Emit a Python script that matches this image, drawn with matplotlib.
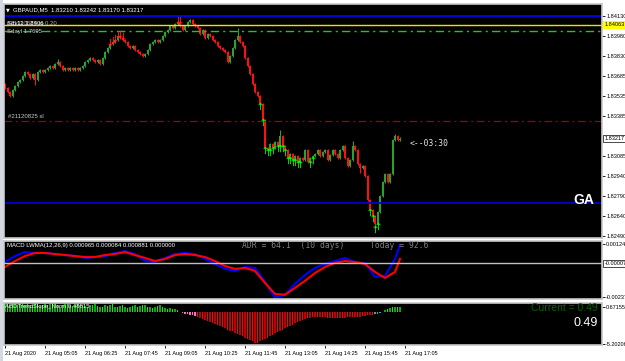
import numpy as np
import matplotlib.pyplot as plt
import matplotlib.transforms as mtransforms

plt.rcParams['font.family'] = ['Liberation Sans', 'DejaVu Sans']

# ---- data (GBPAUD M5, 21 Aug 2020) ----
closes = [1.83594, 1.83565, 1.83535, 1.83579, 1.83609, 1.83639, 1.83654, 1.83684, 1.83713, 1.83698,
          1.83669, 1.83698, 1.83654, 1.83713, 1.83728, 1.83713, 1.83728, 1.83743, 1.83758, 1.83743,
          1.83773, 1.83788, 1.83758, 1.83728, 1.83743, 1.83728, 1.83743, 1.83728, 1.83743, 1.83728,
          1.83743, 1.83758, 1.83788, 1.83803, 1.83818, 1.83803, 1.83788, 1.83803, 1.83773, 1.83818,
          1.83862, 1.83892, 1.83922, 1.83937, 1.83951, 1.83981, 1.83966, 1.83951, 1.83937, 1.83907,
          1.83892, 1.83907, 1.83877, 1.83862, 1.83847, 1.83832, 1.83847, 1.83877, 1.83922, 1.83937,
          1.83951, 1.83937, 1.83951, 1.83981, 1.84011, 1.84026, 1.84056, 1.84041, 1.84070, 1.84085,
          1.84056, 1.84026, 1.84056, 1.84085, 1.84100, 1.84070, 1.84056, 1.84041, 1.83996, 1.84026,
          1.83966, 1.83996, 1.83981, 1.83951, 1.83937, 1.83907, 1.83892, 1.83877, 1.83862, 1.83788,
          1.83832, 1.83892, 1.83951, 1.83981, 1.83937, 1.83907, 1.83818, 1.83758, 1.83698, 1.83624,
          1.83565, 1.83535, 1.83475, 1.83356, 1.83148, 1.83133, 1.83178, 1.83148, 1.83193, 1.83163,
          1.83237, 1.83163, 1.83133, 1.83074, 1.83103, 1.83059, 1.83089, 1.83044, 1.83074, 1.83059,
          1.83133, 1.83044, 1.83074, 1.83089, 1.83103, 1.83133, 1.83089, 1.83118, 1.83133, 1.83059,
          1.83096, 1.83133, 1.83103, 1.83074, 1.83133, 1.83163, 1.83074, 1.83014, 1.83059, 1.83163,
          1.83133, 1.83029, 1.82999, 1.83014, 1.82940, 1.82761, 1.82687, 1.82642, 1.82582, 1.82672,
          1.82791, 1.82895, 1.82954, 1.82895, 1.82954, 1.83208, 1.83237, 1.83208, 1.83217]
first_open = 1.83624
spike_highs = {93: 1.84040, 110: 1.83282, 21: 1.83810, 139: 1.83200, 156: 1.83250}
spike_lows = {148: 1.82550, 12: 1.83620, 142: 1.82960}

up_arrows = [102, 103, 104, 105, 106, 107, 109, 110, 111, 112, 113, 114, 115, 116, 117, 118,
             122, 123, 146, 147, 148, 149]
dn_marks = [42, 43, 44, 45, 46, 47, 69, 70]

price_ticks = [1.84130, 1.83980, 1.83830, 1.83685, 1.83535, 1.83385,
               1.83085, 1.82940, 1.82790, 1.82640, 1.82490]
line_blue_hi = 1.84130
line_yellow = 1.84063
line_green = 1.84020
line_sl = 1.83349
line_blue_lo = 1.82739
last_price = 1.83217

macd_bars = list(range(0, 157, 4)) + [158]
macd_main = [0.00001, 0.00042, 0.00069, 0.00063, 0.00063, 0.00056, 0.00049, 0.00042, 0.00029, 0.00035,
             0.00042, 0.00063, 0.00076, 0.00056, 0.00008, 0.00001, 0.00029, 0.00056, 0.00063, 0.00056,
             0.00022, -0.00012, -0.00046, -0.00060, -0.00033, -0.00039, -0.00135, -0.00244, -0.00223,
             -0.00148, -0.00087, -0.00039, -0.00012, 0.00008, 0.00029, 0.00001, -0.00005, -0.00101,
             -0.00094, 0.00022, 0.00117]
macd_signal = [-0.00033, 0.00008, 0.00042, 0.00063, 0.00063, 0.00056, 0.00049, 0.00042, 0.00035, 0.00035,
               0.00049, 0.00056, 0.00069, 0.00049, 0.00029, 0.00008, 0.00022, 0.00049, 0.00056, 0.00049,
               0.00035, 0.00008, -0.00026, -0.00046, -0.00039, -0.00060, -0.00142, -0.00217, -0.00223,
               -0.00176, -0.00128, -0.00074, -0.00033, -0.00005, 0.00008, 0.00001, -0.00012, -0.00067,
               -0.00108, -0.00067, 0.00022]

hist = [1.2, 1.3, 1.1, 1.3, 1.2, 1.0, 1.2, 1.3, 1.1, 1.2,
        1.0, 1.1, 1.3, 1.2, 0.9, 1.1, 1.2, 1.0, 1.3, 1.1,
        1.2, 1.0, 0.8, 1.1, 1.2, 1.3, 1.0, 0.9, 1.1, 1.2,
        1.0, 1.1, 0.9, 0.8, 1.0, 1.1, 1.2, 0.9, 0.7, 0.8,
        1.0, 0.9, 1.1, 1.2, 0.8, 0.7, 0.9, 1.0, 0.8, 0.6,
        0.7, 0.9, 1.0, 0.8, 0.9, 1.1, 1.0, 0.8, 0.7, 0.6,
        0.8, 0.9, 1.0, 0.7, 0.6, 0.5, 0.6, 0.5, 0.4, 0.3,
        -0.1, -0.2, -0.3, -0.4, -0.5, -0.6, -0.7,
        -0.9, -1.0, -1.2, -1.4, -1.5, -1.7, -1.9, -2.0, -2.2, -2.4, -2.5, -2.7,
        -2.9, -3.1, -3.2, -3.4, -3.6, -3.8, -4.0, -4.2, -4.4, -4.6, -4.8, -5.0,
        -5.0, -4.8, -4.6, -4.4, -4.2, -4.0, -3.7, -3.5, -3.3, -3.1, -2.9, -2.7, -2.5,
        -2.3, -2.1, -1.9, -1.7, -1.5, -1.4, -1.2, -1.1, -1.0, -0.9, -0.9, -0.8,
        -0.8, -0.9, -0.9, -1.0, -1.0, -1.0, -1.1, -1.0, -1.0, -1.0,
        -1.0, -0.9, -0.9, -0.9, -0.8, -0.8, -0.8, -0.7, -0.7, -0.6, -0.6, -0.5,
        -0.4, -0.3, -0.2, -0.1,
        0.3, 0.5, 0.6, 0.7, 0.8, 0.8, 0.7]

time_ticks = [0, 16, 32, 48, 64, 80, 96, 112, 128, 144, 160]
time_labels = ['21 Aug 2020', '21 Aug 05:05', '21 Aug 06:25', '21 Aug 07:45', '21 Aug 09:05',
               '21 Aug 10:25', '21 Aug 11:45', '21 Aug 13:05', '21 Aug 14:25', '21 Aug 15:45',
               '21 Aug 17:05']

# ---- figure ----
W, H = 625, 361
fig = plt.figure(figsize=(W / 100, H / 100), dpi=100, facecolor='white')


def box(x0, y0, x1, y1):
    return [x0 / W, 1 - y1 / H, (x1 - x0) / W, (y1 - y0) / H]


ax1 = fig.add_axes(box(4, 4, 602, 238))
ax2 = fig.add_axes(box(4, 241, 602, 299))
ax3 = fig.add_axes(box(4, 303, 602, 345))

SMALL = 4.0
xlim = (-0.4, 238.8)
for ax in (ax1, ax2, ax3):
    ax.set_facecolor('black')
    ax.set_xlim(*xlim)
    for s in ax.spines.values():
        s.set_color('#c8c8c8')
        s.set_linewidth(1.2)
    ax.yaxis.tick_right()
    ax.tick_params(axis='y', labelsize=SMALL, colors='black', length=2, pad=1, width=0.6)
    ax.tick_params(axis='x', bottom=False, labelbottom=False)

# left window edge
fig.patches.append(plt.Rectangle((0, 0), 3 / W, 1, transform=fig.transFigure,
                                 facecolor='#d4d8e0', edgecolor='none'))

# ---- main price panel ----
closes = np.array(closes)
opens = np.concatenate([[first_open], closes[:-1]])
idx = np.arange(len(closes))
highs = np.maximum(opens, closes) + 0.00010
lows = np.minimum(opens, closes) - 0.00010
for k, v in spike_highs.items():
    highs[k] = max(highs[k], v)
for k, v in spike_lows.items():
    lows[k] = min(lows[k], v)
up = closes >= opens
col = np.where(up, '#2ea02e', '#ff1010')
ax1.vlines(idx, lows, highs, colors=col, linewidth=0.8)
body = np.maximum(np.abs(closes - opens), 0.00003)
ax1.bar(idx, body, bottom=np.minimum(opens, closes), width=0.8, color=col, linewidth=0)

ax1.scatter(idx[up_arrows], lows[up_arrows] - 0.00008, marker='$\u2191$', s=28,
            color='#00ff00', linewidths=0, zorder=4)
ax1.scatter(idx[dn_marks], highs[dn_marks] + 0.00004, marker='$\u2193$', s=28,
            color='#ff2020', linewidths=0, zorder=4)

ax1.axhline(line_blue_hi, color='#0000e0', lw=1.4)
ax1.axhline(line_yellow, color='#e6e600', lw=1.0)
ax1.axhline(line_green, color='#22c422', lw=1.0, dashes=(6, 3, 1.5, 3))
ax1.axhline(line_sl, color='#a00000', lw=0.9, dashes=(6, 3, 1.5, 3))
ax1.axhline(line_blue_lo, color='#0000e0', lw=1.2)

ax1.set_ylim(1.82478, 1.84219)
ax1.set_yticks(price_ticks)
ax1.set_yticklabels(['%.5f' % p for p in price_ticks])

tr1 = mtransforms.blended_transform_factory(ax1.transAxes, ax1.transData)
ax1.text(1.004, last_price, '%.5f' % last_price, transform=tr1, fontsize=SMALL, va='center',
         ha='left', color='black',
         bbox=dict(boxstyle='square,pad=0.2', facecolor='white', edgecolor='black', lw=0.5))
ax1.text(1.004, line_yellow, '%.5f' % line_yellow, transform=tr1, fontsize=SMALL, va='center',
         ha='left', color='black',
         bbox=dict(boxstyle='square,pad=0.2', facecolor='#ffff00', edgecolor='none'))


def ftext(x, y, s, **kw):
    fig.text(x / W, 1 - y / H, s, **kw)


ftext(6, 9.5, '\u25bc', fontsize=3.5, color='white', va='center', family='DejaVu Sans')
ftext(13, 9.5, 'GBPAUD,M5  1.83210 1.83242 1.83170 1.83217', fontsize=4.3, color='white',
      va='center')
ftext(7, 24, '#21120825 tp 0.20', fontsize=4.3, color='#b0b0b0', va='center')
ftext(7, 24, 'Sdy11 1.8406', fontsize=4.3, color='white', va='center')
ftext(7, 31.5, 'Sdayl 1.7695', fontsize=4.3, color='#d0d0d0', va='center')
ftext(8, 117, '#21120825 sl', fontsize=4.3, color='#c8c8c8', va='center')
ftext(410, 143, '<--03:30', fontsize=5.8, color='#e8e8e8', va='center',
      family='DejaVu Sans Mono')
ftext(573, 200, 'GA', fontsize=10, color='white', va='center', fontweight='bold')

# ---- MACD panel ----
ax2.plot(macd_bars, macd_main, color='#0000ff', lw=1.5)
ax2.plot(macd_bars, macd_signal, color='#ff0000', lw=1.5)
ax2.axhline(-0.00007, color='#c0c0c0', lw=1.0)
ax2.set_ylim(-0.00252, 0.00145)
ax2.set_yticks([0.00124, -0.00237])
ax2.set_yticklabels(['0.00124', '-0.00237'])
tr2 = mtransforms.blended_transform_factory(ax2.transAxes, ax2.transData)
ax2.text(1.004, -0.00007, '-0.00007', transform=tr2, fontsize=SMALL, va='center', ha='left',
         color='black',
         bbox=dict(boxstyle='square,pad=0.2', facecolor='white', edgecolor='black', lw=0.5))
ftext(7, 246, 'MACD LWMA(12,26,9) 0.000965 0.000084 0.000881 0.000000', fontsize=4.3,
      color='white', va='center')
ftext(242, 246, 'ADR = 64.1  (10 days)', fontsize=5.8, color='#808080', va='center',
      family='DejaVu Sans Mono')
ftext(370, 246, 'Today = 92.6', fontsize=5.8, color='#808080', va='center',
      family='DejaVu Sans Mono')

# ---- trend slope histogram ----
hist = np.array(hist)
hidx = np.arange(len(hist))
hcol = []
for i, v in enumerate(hist):
    if v >= 0:
        hcol.append('#22dd22' if i % 2 else '#00b000')
    elif i < 77:
        hcol.append('#ff70c0')
    elif i >= 148:
        hcol.append('#20b0b0')
    else:
        hcol.append('#ff0000' if i % 2 else '#c00000')
ax3.bar(hidx, hist, width=0.6, color=hcol, linewidth=0)
ax3.set_ylim(-5.4, 1.4)
ax3.set_yticks([0.67155, -5.20206])
ax3.set_yticklabels(['0.67155', '-5.20206'])
ftext(5, 306.5, 'ABDTrendSlope_Norm 0.48815', fontsize=4.3, color='white', va='center')
ftext(598, 308, 'Current = 0.49', fontsize=7.5, color='#006400', va='center', ha='right')
ftext(598, 323, '0.49', fontsize=9, color='white', va='center', ha='right')

ax3.set_xticks(time_ticks)
ax3.set_xticklabels(time_labels)
ax3.tick_params(axis='x', bottom=True, labelbottom=True, labelsize=SMALL, colors='black',
                length=2, pad=2, width=0.6)
for lbl in ax3.get_xticklabels():
    lbl.set_horizontalalignment('left')

fig.savefig('out.png', dpi=100, facecolor='white')
